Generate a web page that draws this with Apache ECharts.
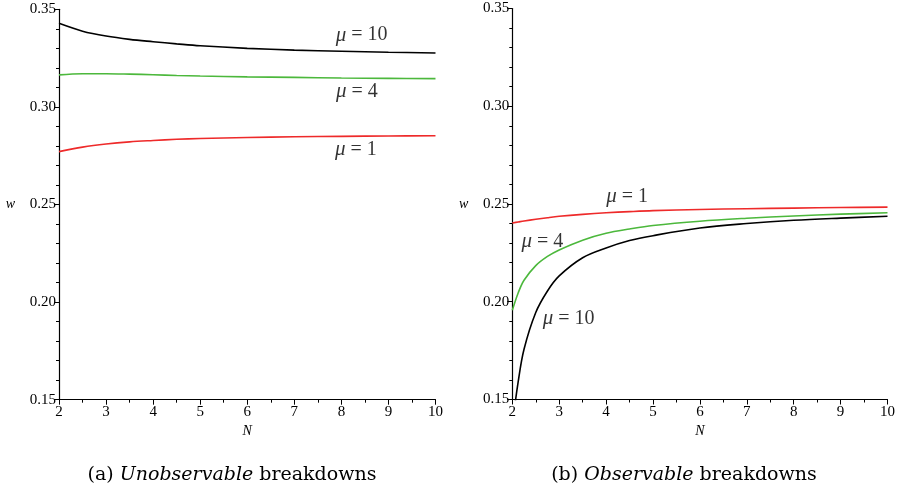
<!DOCTYPE html>
<html><head><meta charset="utf-8">
<script src="https://cdn.jsdelivr.net/npm/echarts@6/dist/echarts.min.js"></script>
<style>html,body{margin:0;padding:0;background:#fff}#c{width:898px;height:493px}</style>
</head><body><div id="c"></div>
<script>
// Panel (a): Unobservable breakdowns
const nA = [2, 2.5, 3, 3.5, 4, 4.5, 5, 6, 7, 8, 9, 10];
const a_mu10 = [0.3428, 0.3388, 0.3363, 0.3346, 0.3334, 0.3323, 0.3313, 0.3300, 0.3291, 0.3285, 0.3280, 0.3276];
const a_mu4  = [0.3164, 0.3170, 0.3170, 0.3168, 0.3165, 0.3161, 0.3158, 0.3154, 0.3151, 0.3148, 0.3146, 0.3145];
const a_mu1  = [0.2771, 0.2794, 0.2810, 0.2821, 0.2828, 0.2834, 0.2838, 0.2843, 0.2847, 0.2849, 0.2851, 0.2852];
// Panel (b): Observable breakdowns
const nB = [2, 2.125, 2.25, 2.5, 2.75, 3, 3.5, 4, 4.5, 5, 6, 7, 8, 9, 10];
const b_mu10 = [0.1370, 0.1590, 0.1757, 0.1945, 0.2055, 0.2132, 0.2225, 0.2275, 0.2313, 0.2338, 0.2377, 0.2400, 0.2417, 0.2428, 0.2437];
const b_mu4  = [0.1956, 0.2045, 0.2110, 0.2185, 0.2232, 0.2265, 0.2315, 0.2350, 0.2372, 0.2390, 0.2412, 0.2427, 0.2439, 0.2448, 0.2455];
const b_mu1  = [0.2403, 0.2408, 0.2413, 0.2422, 0.2430, 0.2437, 0.2447, 0.2455, 0.2461, 0.2466, 0.2472, 0.2476, 0.2479, 0.2482, 0.2484];
// Curve labels [N, w, text]
const labelsA = [[8.43, 0.3368, '10'], [8.33, 0.3077, '4'], [8.31, 0.2783, '1']];
const labelsB = [[4.45, 0.2536, '1'], [2.64, 0.2306, '4'], [3.20, 0.1914, '10']];
const yTicks = [0.15, 0.20, 0.25, 0.30, 0.35];
const xTicks = [2, 3, 4, 5, 6, 7, 8, 9, 10];

const SERIF = '"Liberation Serif", "DejaVu Serif", serif';
const CAPTION = '"DejaVu Serif", "Liberation Serif", serif';
const BLACK = '#000000', GREEN = '#4cb83c', RED = '#ee2a2a';

function zip(xs, ys) { return xs.map((x, i) => [x, ys[i]]); }

function xAxis(idx) {
  return {
    type: 'value', gridIndex: idx, min: xTicks[0], max: xTicks[xTicks.length - 1], interval: 1,
    name: 'N', nameLocation: 'middle', nameGap: 24,
    nameTextStyle: { fontFamily: SERIF, fontStyle: 'italic', fontSize: 14, color: '#000' },
    axisLine: { onZero: false, lineStyle: { color: '#000', width: 1.2 } },
    axisTick: { show: true, inside: false, length: 5, lineStyle: { color: '#000' } },
    minorTick: { show: true, splitNumber: 2, length: 3, lineStyle: { color: '#000' } },
    splitLine: { show: false },
    axisLabel: { fontFamily: SERIF, fontSize: 15, color: '#000', margin: 5 }
  };
}
function yAxis(idx) {
  return {
    type: 'value', gridIndex: idx, min: yTicks[0], max: yTicks[yTicks.length - 1], interval: 0.05,
    name: 'w', nameLocation: 'middle', nameGap: 44, nameRotate: 0,
    nameTextStyle: { fontFamily: SERIF, fontStyle: 'italic', fontSize: 14, color: '#000' },
    axisLine: { show: true, onZero: false, lineStyle: { color: '#000', width: 1.2 } },
    axisTick: { show: true, inside: false, length: 5, lineStyle: { color: '#000' } },
    minorTick: { show: true, splitNumber: 5, length: 3, lineStyle: { color: '#000' } },
    splitLine: { show: false },
    axisLabel: { fontFamily: SERIF, fontSize: 15, color: '#000', margin: 3,
      formatter: v => v.toFixed(2) }
  };
}
function line(idx, xs, ys, color) {
  return {
    type: 'line', xAxisIndex: idx, yAxisIndex: idx, data: zip(xs, ys),
    smooth: 0.35, showSymbol: false, symbol: 'none', clip: true,
    lineStyle: { color: color, width: 1.6 }, silent: true, animation: false
  };
}
function labelSeries(idx, labels) {
  return {
    type: 'scatter', xAxisIndex: idx, yAxisIndex: idx, symbolSize: 0, silent: true, animation: false,
    data: labels.map(l => ({ value: [l[0], l[1]], name: l[2] })),
    label: {
      show: true, position: 'inside', color: '#000', textBorderWidth: 0,
      formatter: p => '{m|\u03bc}{t| = ' + p.name + '}',
      rich: {
        m: { fontFamily: SERIF, fontStyle: 'italic', fontSize: 21, color: '#000', textBorderWidth: 0 },
        t: { fontFamily: SERIF, fontSize: 20, color: '#000', textBorderWidth: 0 }
      }
    }
  };
}
function caption(cx, tag, word) {
  return { type: 'text', x: cx, y: 475, style: {
    text: '{n|' + tag + ' }{i|' + word + '}{n| breakdowns}',
    align: 'center', verticalAlign: 'middle',
    rich: { n: { fontFamily: CAPTION, fontSize: 19, fill: '#000' },
            i: { fontFamily: CAPTION, fontStyle: 'italic', fontSize: 19, fill: '#000' } } } };
}

const chart = echarts.init(document.getElementById('c'), null, { renderer: 'canvas' });
chart.setOption({
  animation: false,
  backgroundColor: '#fff',
  grid: [
    { left: 59, top: 9.3, width: 376.5, height: 390.4 },
    { left: 512.3, top: 8.5, width: 377, height: 391 }
  ],
  xAxis: [xAxis(0), xAxis(1)],
  yAxis: [yAxis(0), yAxis(1)],
  series: [
    line(0, nA, a_mu10, BLACK), line(0, nA, a_mu4, GREEN), line(0, nA, a_mu1, RED),
    line(1, nB, b_mu10, BLACK), line(1, nB, b_mu4, GREEN), line(1, nB, b_mu1, RED),
    labelSeries(0, labelsA), labelSeries(1, labelsB)
  ],
  graphic: [
    caption(232, '(a)', 'Unobservable'),
    caption(684, '(b)', 'Observable')
  ]
});
</script></body></html>
